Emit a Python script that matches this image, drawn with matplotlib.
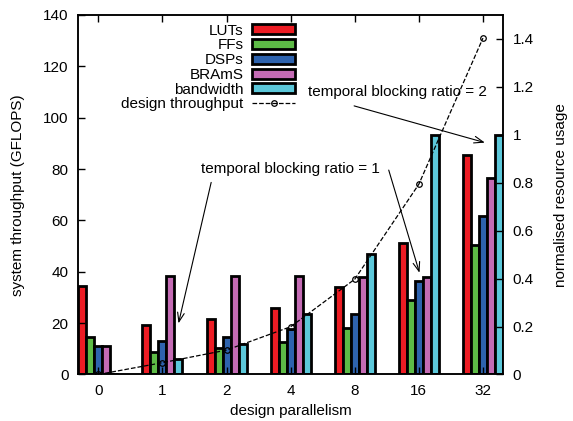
import matplotlib
matplotlib.use("Agg")
import matplotlib.pyplot as plt
import numpy as np

plt.rcParams['font.family'] = ['Liberation Sans', 'DejaVu Sans']
plt.rcParams['font.size'] = 11

# data
parallelism = ["0", "1", "2", "4", "8", "16", "32"]
luts = [0.37, 0.208, 0.231, 0.277, 0.367, 0.55, 0.915]
ffs = [0.157, 0.093, 0.111, 0.136, 0.194, 0.312, 0.54]
dsps = [0.118, 0.138, 0.158, 0.191, 0.253, 0.389, 0.66]
brams = [0.118, 0.411, 0.411, 0.411, 0.408, 0.408, 0.82]
bandwidth = [0.0, 0.066, 0.128, 0.252, 0.503, 1.0, 1.0]
throughput = [0, 4.6, 9.5, 18.6, 37.1, 74.1, 131]

series = [("LUTs", luts, "#ED1C24"),
          ("FFs", ffs, "#5DBB46"),
          ("DSPs", dsps, "#2E63AE"),
          ("BRAmS", brams, "#C46BB4"),
          ("bandwidth", bandwidth, "#5CC8DA")]

fig = plt.figure(figsize=(5.73, 4.21), dpi=100)
ax = fig.add_axes([0.1367, 0.1105, 0.7411, 0.8539])
ax2 = ax.twinx()

x = np.arange(len(parallelism))
w = 0.125
handles = []
for i, (name, vals, col) in enumerate(series):
    b = ax2.bar(x + (i - 2) * w, vals, w, color=col, edgecolor="black",
                linewidth=2, label=name)
    handles.append(b)

line, = ax.plot(x, throughput, "k--", lw=0.9, marker="o", ms=4,
                mfc="none", mec="black", mew=0.9, label="design throughput")
handles.append(line)

# line and notes on top of the bars
ax.set_zorder(ax2.get_zorder() + 1)
ax.patch.set_visible(False)

ax.set_xlim(-0.3125, 6.3125)
ax.set_ylim(0, 140)
ax2.set_ylim(0, 1.5)
ax.set_xticks(x)
ax.set_xticklabels(parallelism)
ax.set_yticks(np.arange(0, 141, 20))
ax2.set_yticks([0, 0.2, 0.4, 0.6, 0.8, 1.0, 1.2, 1.4])
ax2.set_yticklabels(["0", "0.2", "0.4", "0.6", "0.8", "1", "1.2", "1.4"])

ax.tick_params(axis="x", direction="in", top=True, length=5, width=1, pad=7)
ax.tick_params(axis="y", direction="in", length=5, width=1, pad=7)
ax2.tick_params(axis="y", direction="in", length=5, width=1, pad=7)
for a in (ax, ax2):
    for s in a.spines.values():
        s.set_linewidth(1.1)

ax.set_xlabel("design parallelism")
ax.set_ylabel("system throughput (GFLOPS)")
ax2.set_ylabel("normalised resource usage")
ax.xaxis.set_label_coords(0.5, -0.083)
ax.yaxis.set_label_coords(-0.125, 0.5)
ax2.yaxis.set_label_coords(1.12, 0.5)

arrow = dict(arrowstyle="->,head_length=0.6,head_width=0.22", lw=0.8,
             color="black", shrinkA=0, shrinkB=0)
ax.text(2.99, 80.2, "temporal blocking ratio = 1", ha="center", va="center")
ax.annotate("", xy=(1.25, 19.9), xytext=(1.76, 74.8), arrowprops=arrow)
ax.annotate("", xy=(5.01, 39.6), xytext=(4.53, 79.6), arrowprops=arrow)
ax.text(4.66, 110.1, "temporal blocking ratio = 2", ha="center", va="center")
ax.annotate("", xy=(6.03, 90.3), xytext=(3.99, 104.6), arrowprops=arrow)

ax.legend(handles=handles, loc="upper right", bbox_to_anchor=(0.51, 0.976),
          markerfirst=False, frameon=False, borderpad=0, borderaxespad=0,
          labelspacing=0.05, handlelength=2.8, handleheight=0.63,
          handletextpad=0.55, numpoints=1)

fig.savefig("out.png", dpi=100)
